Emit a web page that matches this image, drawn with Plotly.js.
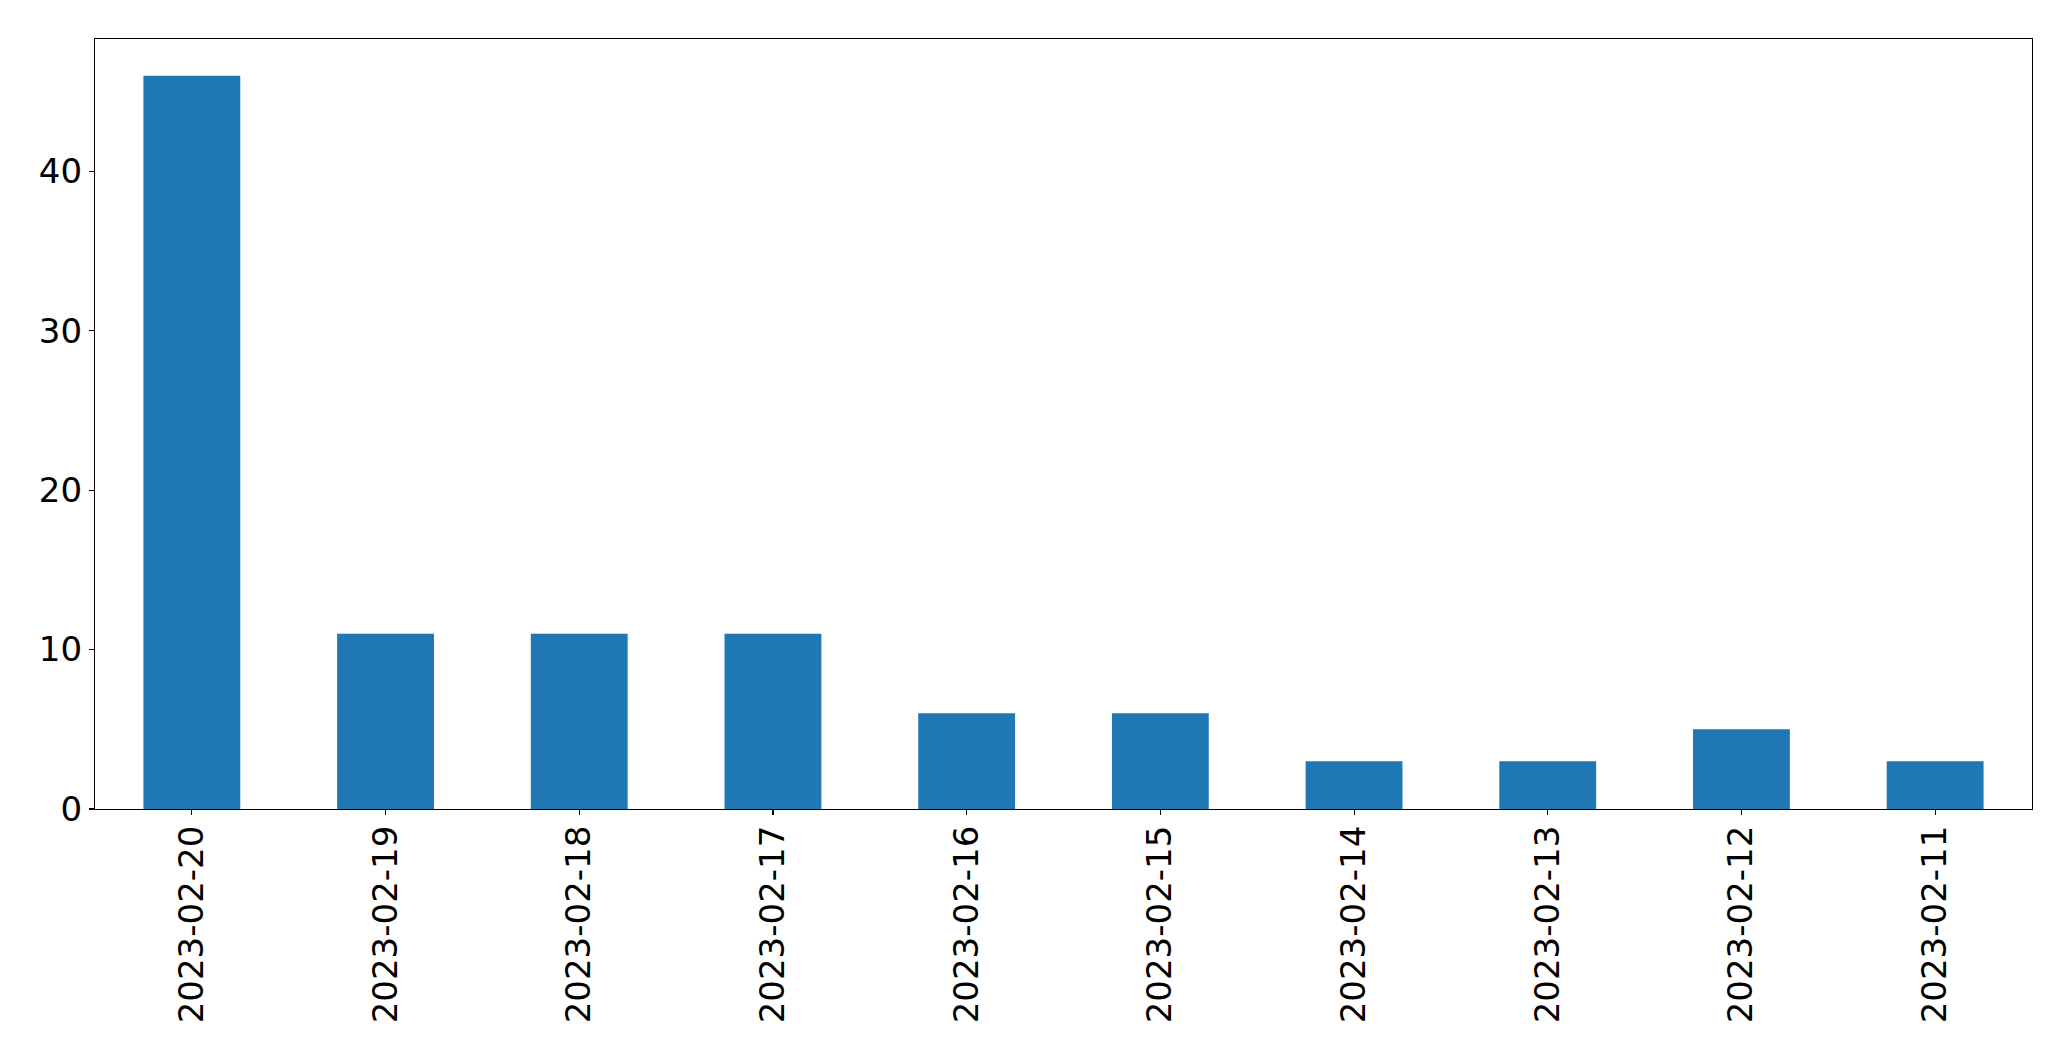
<!DOCTYPE html>
<html>
<head>
<meta charset="utf-8">
<script src="https://cdn.plot.ly/plotly-3.0.1.min.js"></script>
<style>html,body{margin:0;padding:0;background:#fff;}#chart{width:2071px;height:1061px;}</style>
</head>
<body>
<div id="chart"></div>
<script>
const dates = ["2023-02-20","2023-02-19","2023-02-18","2023-02-17","2023-02-16","2023-02-15","2023-02-14","2023-02-13","2023-02-12","2023-02-11"];
const counts = [46, 11, 11, 11, 6, 6, 3, 3, 5, 3];
const yTicks = [0, 10, 20, 30, 40];

const trace = {
  type: "bar",
  x: dates,
  y: counts,
  marker: {color: "#1f77b4", line: {width: 0}},
  hoverinfo: "x+y"
};

const layout = {
  width: 2071,
  height: 1061,
  autosize: false,
  margin: {l: 95, r: 39, t: 39, b: 252, pad: 0},
  paper_bgcolor: "#ffffff",
  plot_bgcolor: "#ffffff",
  bargap: 0.5,
  showlegend: false,
  font: {family: "DejaVu Sans, sans-serif", size: 34, color: "#000000"},
  xaxis: {
    type: "category",
    range: [-0.5, 9.5],
    tickangle: -90,
    ticks: "outside",
    ticklen: 5,
    tickwidth: 1.1,
    tickcolor: "#000",
    ticklabelstandoff: -3,
    showline: true,
    linecolor: "#000",
    linewidth: 1.1,
    mirror: true,
    showgrid: false,
    zeroline: false,
    tickfont: {family: "DejaVu Sans, sans-serif", size: 34, color: "#000"}
  },
  yaxis: {
    range: [0, 48.3],
    tickmode: "array",
    tickvals: yTicks,
    ticktext: yTicks.map(String),
    ticks: "outside",
    ticklen: 5,
    tickwidth: 1.1,
    tickcolor: "#000",
    showline: true,
    linecolor: "#000",
    linewidth: 1.1,
    mirror: true,
    showgrid: false,
    zeroline: false,
    tickfont: {family: "DejaVu Sans, sans-serif", size: 34, color: "#000"}
  }
};

Plotly.newPlot("chart", [trace], layout, {displayModeBar: false, staticPlot: true});
</script>
</body>
</html>
